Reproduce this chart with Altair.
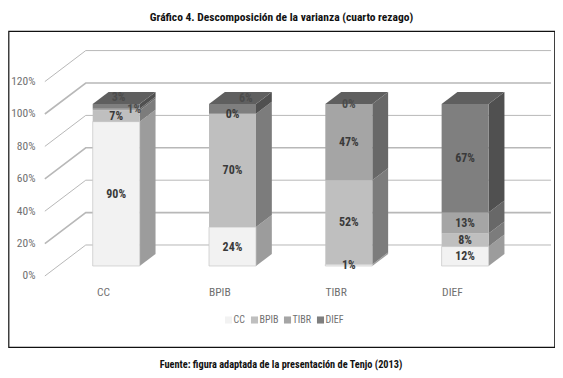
import altair as alt
import pandas as pd

CATEGORIES = ["CC", "BPIB", "TIBR", "DIEF"]
SERIES = ["CC", "BPIB", "TIBR", "DIEF"]
CC_VALUES = [90, 24, 1, 12]
BPIB_VALUES = [7, 70, 52, 8]
TIBR_VALUES = [1, 0, 47, 13]
DIEF_VALUES = [3, 6, 0, 67]
TICKS = [0, 20, 40, 60, 80, 100, 120]

FRONT = ["#f2f2f2", "#bfbfbf", "#a5a5a5", "#7f7f7f"]
SIDE = ["#9c9c9c", "#7c7c7c", "#686868", "#505050"]
TOP = "#5f5f5f"
FONT = "'Roboto Condensed','Open Sans Condensed','DejaVu Sans Condensed','Liberation Sans'"

PX_CAT, PX_PCT, DX = 116.3, 1.62, 1.32
D_FRONT, D_BACK, D_GRID = 10, 22, 31
HW = 0.202

def pr(cat, pct, depth):
    return cat + depth * DX / PX_CAT, pct + depth / PX_PCT

table = [CC_VALUES, BPIB_VALUES, TIBR_VALUES, DIEF_VALUES]
bars, sides, tops, labels = [], [], [], []
NUDGE = {(0, 2): (0.155, 0.5), (0, 3): (0.02, 5.5), (1, 3): (0.115, 6.5)}
for i in range(len(CATEGORIES)):
    total = sum(s[i] for s in table)
    lo = 0.0
    for j, name in enumerate(SERIES):
        v = table[j][i]
        hi = lo + v / total * 100
        x1, y1 = pr(i - HW, lo, D_FRONT)
        x2, y2 = pr(i + HW, hi, D_FRONT)
        bars.append(dict(x=x1, x2=x2, y=y1, y2=y2, serie=name))
        if hi > lo:
            for k, d in enumerate((D_FRONT, D_BACK)):
                xs_, yl = pr(i + HW, lo, d)
                _, yh = pr(i + HW, hi, d)
                sides.append(dict(x=xs_, y=yl, y2=yh, poly=f"p{i}{j}", shade=SIDE[j]))
        nx, ny = NUDGE.get((i, j), (0, 0))
        lx, ly = pr(i + nx, (lo + hi) / 2 + ny, D_FRONT)
        labels.append(dict(x=lx, y=ly, text=f"{v}%", faded=(i, j) in NUDGE or (i == 2 and j == 3)))
        lo = hi
    a = pr(i - HW, 100, D_FRONT)
    b = pr(i - HW, 100, D_BACK)
    c = pr(i + HW, 100, D_FRONT)
    e = pr(i + HW, 100, D_BACK)
    tops += [
        dict(x=a[0], y=a[1], y2=a[1], poly=f"t{i}"),
        dict(x=b[0], y=c[1], y2=e[1], poly=f"t{i}"),
        dict(x=c[0], y=c[1], y2=e[1], poly=f"t{i}"),
        dict(x=e[0], y=e[1], y2=e[1], poly=f"t{i}"),
    ]

grid = []
for t in TICKS:
    for k, (cat, d) in enumerate(((-0.5, 0), (-0.5, D_GRID), (3.5, D_GRID))):
        gx, gy = pr(cat, t, d)
        grid.append(dict(x=gx, y=gy, tick=t, ord=k))

xs = alt.Scale(domain=[-0.8125, 3.882], nice=False, zero=False)
ys = alt.Scale(domain=[-43.83, 151.23], nice=False, zero=False)

names = "[" + ",".join(f"'{c}'" for c in CATEGORIES) + "]"
x_axis = alt.Axis(
    values=[0, 1, 2, 3], labelExpr=f"{names}[datum.value]", domain=False, ticks=False, grid=False,
    offset=-55, labelPadding=0, labelBaseline="middle", labelFont=FONT, labelFontSize=11.5,
    labelColor="#707070", title="Fuente: figura adaptada de la presentación de Tenjo (2013)",
    titleFont=FONT, titleFontSize=10.3, titleFontWeight="bold", titleColor="#111111",
    titleY=67, titleX=272,
)
y_axis = alt.Axis(
    values=TICKS, labelExpr="datum.value + '%'", domain=False, ticks=False, grid=False,
    offset=-26.5, labelPadding=0, labelFont=FONT, labelFontSize=11.5, labelColor="#707070", title=None,
)
X = alt.X("x:Q", scale=xs, axis=x_axis)
Y = alt.Y("y:Q", scale=ys, axis=y_axis)

grid_l = alt.Chart(pd.DataFrame(grid)).mark_line(color="#b8b8b8").encode(
    x=X, y=Y,
    detail="tick:N",
    order="ord:Q",
    strokeWidth=alt.condition("datum.tick % 40 == 20", alt.value(1.6), alt.value(1)),
)
front_l = alt.Chart(pd.DataFrame(bars)).mark_bar(stroke="#c6c6c6").encode(
    x=X, x2="x2:Q", y=Y, y2="y2:Q",
    strokeWidth=alt.condition("datum.serie == 'CC'", alt.value(0.7), alt.value(0)),
    color=alt.Color(
        "serie:N",
        scale=alt.Scale(domain=SERIES, range=FRONT),
        sort=SERIES,
        legend=alt.Legend(
            orient="none", legendX=215, legendY=284, direction="horizontal", title=None,
            symbolType="square", symbolSize=50, symbolStrokeWidth=0, labelFont=FONT, labelFontSize=10,
            labelColor="#707070", labelOffset=0, columnPadding=4, columns=4,
        ),
    ),
)
side_l = alt.Chart(pd.DataFrame(sides)).mark_area().encode(
    x=X, y=Y, y2="y2:Q", detail="poly:N", fill=alt.Fill("shade:N", scale=None),
)
top_l = alt.Chart(pd.DataFrame(tops)).mark_area(color=TOP).encode(
    x=X, y=Y, y2="y2:Q", detail="poly:N",
)
text_l = alt.Chart(pd.DataFrame(labels)).mark_text(
    font=FONT, fontSize=12, fontWeight="bold", baseline="middle"
).encode(
    x=X, y=Y, text="text:N",
    fill=alt.condition("datum.faded", alt.value("#4c4c4c"), alt.value("#3a3a3a")),
)

chart = alt.layer(grid_l, side_l, top_l, front_l, text_l).properties(
    width=546, height=316,
    padding={"left": 0.5, "top": 23, "right": 0, "bottom": 25},
    autosize=alt.AutoSizeParams(type="none"),
    title=alt.TitleParams(
        "Gráfico 4. Descomposición de la varianza (cuarto rezago)",
        font=FONT, fontSize=11.5, fontWeight="bold", color="#111111", anchor="middle", offset=8,
    ),
).configure_view(stroke="#111111", strokeWidth=1.2)

chart.save("out.html", embed_options={"renderer": "svg", "actions": False})
